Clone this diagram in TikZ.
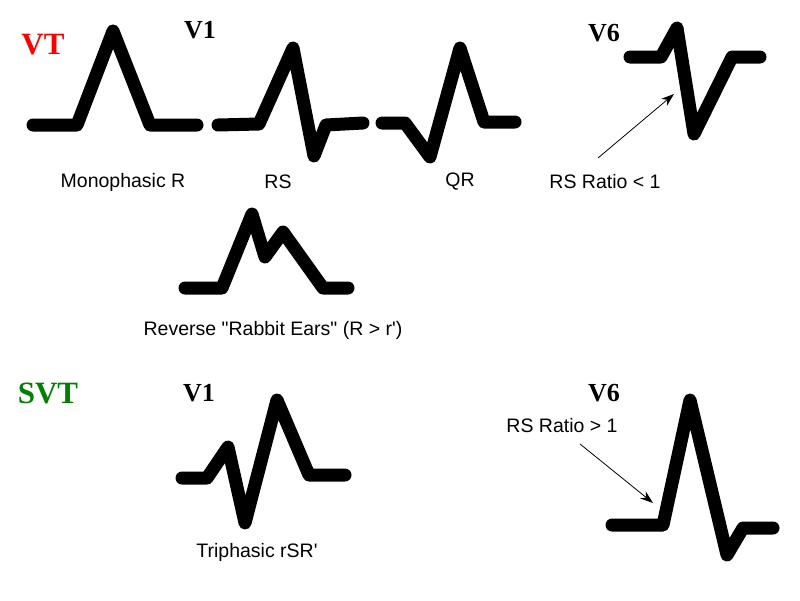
\documentclass[tikz,border=0pt]{standalone}
\usepackage{fontspec}
\setmainfont{Liberation Serif}
\newfontfamily\lblfont{Liberation Sans}
\usetikzlibrary{arrows.meta}
\definecolor{svtgreen}{RGB}{0,128,0}
\begin{document}
\begin{tikzpicture}[x=1pt,y=-1pt,
  wave/.style={line width=13pt,line cap=round,line join=round},
  lbl/.style={font=\lblfont\fontsize{19.5}{22}\selectfont,inner sep=0pt},
  lead/.style={font=\bfseries\fontsize{26}{28}\selectfont,inner sep=0pt},
  grp/.style={font=\bfseries\fontsize{31}{33}\selectfont,inner sep=0pt},
  pointer/.style={line width=0.8pt,-{Stealth[length=13pt,width=9pt]}}]
\useasboundingbox (0,0) rectangle (800,600);
\fill[white] (0,0) rectangle (800,600);
% headings
\node[grp,text=red] (vt) at (43,45) {VT};
\node[grp,text=svtgreen] (svt) at (48,393) {SVT};
\node[lead] (v1a) at (200,30) {V1};
\node[lead] (v6a) at (604,33) {V6};
\node[lead] (v1b) at (199,393) {V1};
\node[lead] (v6b) at (604,393) {V6};
% waveforms, VT
\draw[wave] (33,125) -- (77,125) -- (113,31) -- (150,125) -- (197,125);
\draw[wave] (218,125) -- (259,124) -- (293,48) -- (314,156) -- (326,125) -- (363,123);
\draw[wave] (382,123) -- (405,123) -- (430,157) -- (460,48) -- (484,122) -- (515,122);
\draw[wave] (630,57) -- (661,57) -- (677,28) -- (694,134) -- (732,57) -- (760,57);
\draw[wave] (185,288) -- (222,288) -- (252,214) -- (265,257) -- (283,232) -- (323,288) -- (348,288);
% waveforms, SVT
\draw[wave] (182,478) -- (207,478) -- (228,447) -- (245,523) -- (277,400) -- (309,475) -- (345,475);
\draw[wave] (612,525) -- (663,525) -- (690,400) -- (727,555) -- (743,528) -- (773,528);
% labels
\node[lbl] (mono) at (123,182) {Monophasic R};
\node[lbl] (rs) at (278,182) {RS};
\node[lbl] (qr) at (460,182) {QR};
\node[lbl] (rsl) at (605,182) {RS Ratio < 1};
\node[lbl] (rabbit) at (273,330) {Reverse "Rabbit Ears" (R > r')};
\node[lbl] (tri) at (257,552) {Triphasic rSR'};
\node[lbl] (rsg) at (562,426) {RS Ratio > 1};
% pointers
\coordinate (p1s) at (598,158);
\coordinate (p1e) at (674,94);
\coordinate (p2s) at (580,444);
\coordinate (p2e) at (653,503);
\draw[pointer] (p1s) -- (p1e);
\draw[pointer] (p2s) -- (p2e);
\end{tikzpicture}
\end{document}
